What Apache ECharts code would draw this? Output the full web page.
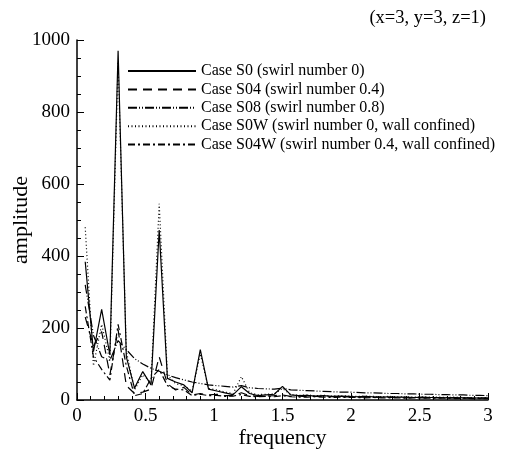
<!DOCTYPE html>
<html>
<head>
<meta charset="utf-8">
<script src="https://cdn.jsdelivr.net/npm/echarts@6/dist/echarts.min.js"></script>
<style>
  html, body { margin: 0; padding: 0; background: #fff; }
  #chart { width: 505px; height: 454px; }
</style>
</head>
<body>
<div id="chart"></div>
<script>
const frequency = [0.06, 0.12, 0.18, 0.24, 0.30, 0.36, 0.42, 0.48, 0.54, 0.60,
  0.66, 0.72, 0.78, 0.84, 0.90, 0.96, 1.02, 1.08, 1.14, 1.20,
  1.26, 1.32, 1.38, 1.44, 1.50, 1.56, 1.62, 1.68, 1.74, 1.80,
  1.86, 1.92, 1.98, 2.04, 2.10, 2.16, 2.22, 2.28, 2.34, 2.40,
  2.46, 2.52, 2.58, 2.64, 2.70, 2.76, 2.82, 2.88, 2.94, 3.00]

const caseS0 = [384, 134, 252, 125, 970, 120, 33, 79, 42, 472, 60, 50, 42, 20, 140, 30, 25, 20, 15, 37,
  18, 12, 14, 16, 38, 14, 12, 13, 11, 12, 10, 11, 10, 9, 10, 9, 8, 9, 8, 8, 7, 8, 7, 7, 6, 7, 6, 6, 5, 6]
const caseS04 = [230, 150, 190, 70, 195, 40, 18, 22, 30, 120, 45, 28, 35, 14, 18, 14, 16, 12, 12, 20,
  12, 10, 11, 12, 14, 10, 11, 9, 10, 9, 9, 8, 9, 8, 8, 7, 8, 7, 7, 6, 7, 6, 6, 6, 5, 6, 5, 5, 5, 5]
const caseS08 = [320, 180, 120, 110, 165, 140, 115, 100, 88, 80, 70, 62, 56, 50, 46, 42, 40, 38, 36, 40,
  34, 32, 31, 30, 33, 28, 27, 26, 25, 24, 23, 22, 22, 21, 20, 20, 19, 18, 18, 17, 17, 16, 16, 15, 15, 14, 14, 13, 13, 12]
const caseS0W = [480, 95, 210, 110, 940, 135, 28, 70, 48, 545, 70, 45, 40, 24, 128, 32, 28, 22, 18, 65,
  20, 15, 16, 17, 32, 15, 13, 14, 12, 13, 11, 12, 11, 10, 11, 10, 9, 10, 9, 9, 8, 9, 8, 8, 7, 8, 7, 7, 6, 7]
const caseS04W = [260, 120, 85, 55, 210, 95, 12, 18, 60, 85, 40, 30, 28, 12, 16, 12, 13, 10, 11, 15,
  10, 9, 10, 9, 12, 9, 8, 8, 9, 8, 7, 8, 7, 7, 6, 7, 6, 6, 6, 5, 6, 5, 5, 5, 5, 4, 5, 4, 4, 4]

const seriesNames = [
  'Case S0 (swirl number 0)',
  'Case S04 (swirl number 0.4)',
  'Case S08 (swirl number 0.8)',
  'Case S0W (swirl number 0, wall confined)',
  'Case S04W (swirl number 0.4, wall confined)'
]
const seriesValues = [caseS0, caseS04, caseS08, caseS0W, caseS04W]
const dashes = ['solid', [9, 6], [9, 2, 1, 2, 1, 2], [1, 2.5], [7, 3, 2, 3]]

const font = '"Liberation Serif", "DejaVu Serif", serif'
const chart = echarts.init(document.getElementById('chart'))

chart.setOption({
  animation: false,
  backgroundColor: '#fff',
  title: {
    text: '(x=3, y=3, z=1)',
    right: 14,
    top: 4,
    textStyle: { fontFamily: font, fontSize: 18.5, fontWeight: 'normal', color: '#000' }
  },
  legend: {
    orient: 'vertical',
    left: 122,
    top: 58,
    itemWidth: 68,
    itemHeight: 14,
    itemGap: 2.4,
    itemStyle: { opacity: 0 },
    textStyle: { fontFamily: font, fontSize: 16, color: '#000' },
    data: seriesNames
  },
  grid: { left: 77, right: 17, top: 40, bottom: 54, outerBoundsMode: 'none', containLabel: false },
  xAxis: {
    type: 'value',
    min: 0,
    max: 3,
    interval: 0.5,
    name: 'frequency',
    nameLocation: 'middle',
    nameGap: 27,
    nameMoveOverlap: false,
    nameTextStyle: { fontFamily: font, fontSize: 22, color: '#000' },
    axisLine: { lineStyle: { color: '#000', width: 1.5 } },
    axisTick: { inside: true, length: 7, lineStyle: { color: '#000' } },
    minorTick: { show: true, splitNumber: 5, length: 4, lineStyle: { color: '#000' } },
    axisLabel: { fontFamily: font, fontSize: 19, color: '#000', margin: 7 },
    splitLine: { show: false }
  },
  yAxis: {
    type: 'value',
    min: 0,
    max: 1000,
    interval: 200,
    name: 'amplitude',
    nameLocation: 'middle',
    nameGap: 45,
    nameMoveOverlap: false,
    nameTextStyle: { fontFamily: font, fontSize: 22, color: '#000' },
    axisLine: { show: true, lineStyle: { color: '#000', width: 1.5 } },
    axisTick: { show: true, inside: true, length: 7, lineStyle: { color: '#000' } },
    minorTick: { show: true, splitNumber: 4, length: 4, lineStyle: { color: '#000' } },
    axisLabel: { fontFamily: font, fontSize: 19, color: '#000', margin: 7, formatter: (v) => String(v) },
    splitLine: { show: false }
  },
  series: seriesNames.map((name, i) => ({
    name: name,
    type: 'line',
    symbol: 'none',
    data: frequency.map((f, j) => [f, seriesValues[i][j]]),
    lineStyle: { color: '#000', width: 1.2, type: dashes[i] },
    itemStyle: { color: '#000' }
  }))
})
</script>
</body>
</html>
